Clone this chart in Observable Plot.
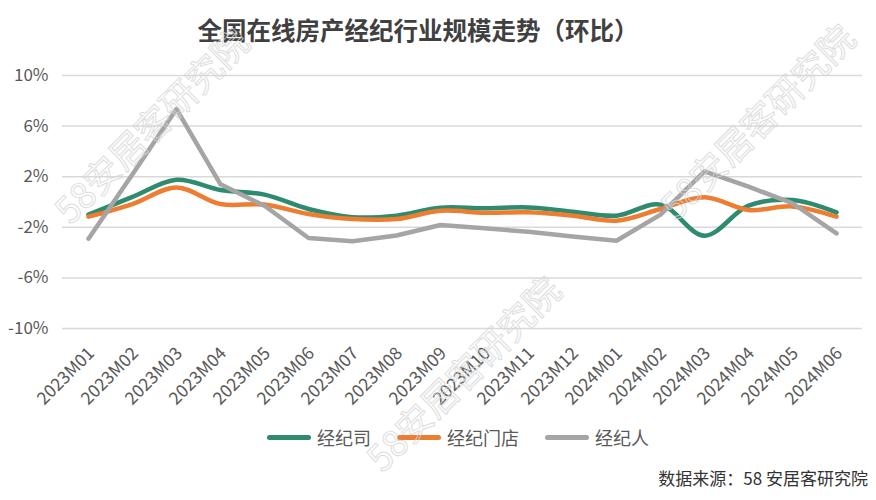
<!DOCTYPE html>
<html>
<head>
<meta charset="utf-8">
<script src="https://cdn.jsdelivr.net/npm/d3@7"></script>
<script src="https://cdn.jsdelivr.net/npm/@observablehq/plot@0.6"></script>
<style>
  html, body { margin: 0; padding: 0; background: #fff; }
  #wrap { position: relative; width: 876px; height: 500px; overflow: hidden; font-family: "Noto Sans CJK SC", "Noto Sans", sans-serif; background: #fff; }
  #title { position: absolute; top: 14px; left: 0; width: 836px; text-align: center; font-size: 24.5px; font-weight: 700; color: #404040; line-height: 32px; }
  #chart { position: absolute; top: 55px; left: 0; }
  #legend { position: absolute; top: 424px; left: 0; width: 916px; display: flex; justify-content: center; gap: 26px; font-size: 18px; color: #595959; line-height: 26px; }
  #legend .item { display: flex; align-items: center; gap: 6px; }
  #legend .sw { width: 44px; height: 5px; border-radius: 3px; }
  #caption { position: absolute; top: 465px; right: 8px; font-size: 17px; color: #333; line-height: 26px; }
  .wm { position: absolute; font-size: 36px; line-height: 40px; color: transparent; -webkit-text-stroke: 1px #d6d6d6; white-space: nowrap; transform-origin: center center; pointer-events: none; opacity: 0.8; }
</style>
</head>
<body>
<div id="wrap">
  <div id="title"></div>
  <div id="chart"></div>
  <div id="legend"></div>
  <div id="caption"></div>
</div>
<script>
const titleText = "全国在线房产经纪行业规模走势（环比）";
const captionText = "数据来源：58 安居客研究院";
const watermarkText = "58安居客研究院";

const months = ["2023M01","2023M02","2023M03","2023M04","2023M05","2023M06","2023M07","2023M08","2023M09","2023M10","2023M11","2023M12","2024M01","2024M02","2024M03","2024M04","2024M05","2024M06"];

const seriesNames = ["经纪司", "经纪门店", "经纪人"];
const seriesColors = ["#2e8b6f", "#ed7d31", "#a5a5a5"];

const agencies = [-1.0, 0.4, 1.76, 0.95, 0.58, -0.55, -1.2, -1.08, -0.45, -0.5, -0.43, -0.77, -1.08, -0.21, -2.66, -0.29, 0.16, -0.82];
const stores   = [-1.16, -0.16, 1.15, -0.16, -0.2, -0.95, -1.35, -1.35, -0.69, -0.85, -0.82, -1.08, -1.48, -0.55, 0.37, -0.63, -0.35, -1.16];
const agents   = [-2.9, 2.2, 7.35, 1.4, -0.3, -2.85, -3.1, -2.65, -1.82, -2.08, -2.35, -2.72, -3.06, -1.0, 2.42, 1.21, -0.1, -2.48];

const yTicks = [-10, -6, -2, 2, 6, 10];

const seriesValues = [agencies, stores, agents];
const seriesCurves = ["catmull-rom", "catmull-rom", "linear"];

const tables = seriesValues.map((vals, i) => months.map((m, j) => ({month: m, value: vals[j], series: seriesNames[i]})));

document.getElementById("title").textContent = titleText;
document.getElementById("caption").textContent = captionText;

const chart = Plot.plot({
  width: 876,
  height: 360,
  marginTop: 20,
  marginBottom: 87,
  marginLeft: 62,
  marginRight: 14,
  style: {fontFamily: '"Noto Sans CJK SC", "Noto Sans", sans-serif', background: "transparent", color: "#595959"},
  x: {type: "point", domain: months, padding: 0.5, label: null},
  y: {domain: [-10, 10], label: null},
  color: {domain: seriesNames, range: seriesColors},
  marks: [
    Plot.ruleY(yTicks, {stroke: "#d9d9d9", strokeWidth: 1.5}),
    Plot.axisY(yTicks, {tickSize: 0, tickPadding: 14, tickFormat: d => d + "%", fontSize: 17, fill: "#595959", label: null}),
    Plot.axisX({tickSize: 0, tickPadding: 22, tickRotate: -45, fontSize: 17.5, fill: "#595959", label: null, dx: 3}),
    ...tables.map((t, i) => Plot.line(t, {x: "month", y: "value", stroke: "series", curve: seriesCurves[i], strokeWidth: 4.5, strokeLinecap: "round", strokeLinejoin: "round"}))
  ]
});
document.getElementById("chart").appendChild(chart);

const legend = document.getElementById("legend");
seriesNames.forEach((n, i) => {
  const it = document.createElement("div");
  it.className = "item";
  const sw = document.createElement("div");
  sw.className = "sw";
  sw.style.background = seriesColors[i];
  const lb = document.createElement("span");
  lb.textContent = n;
  it.appendChild(sw); it.appendChild(lb);
  legend.appendChild(it);
});

const wrap = document.getElementById("wrap");
[[150, 124], [462, 372], [756, 120]].forEach(([cx, cy]) => {
  const w = document.createElement("div");
  w.className = "wm";
  w.textContent = watermarkText;
  wrap.appendChild(w);
  const r = w.getBoundingClientRect();
  w.style.left = (cx - r.width / 2) + "px";
  w.style.top = (cy - r.height / 2) + "px";
  w.style.transform = "rotate(-45deg)";
});
</script>
</body>
</html>
